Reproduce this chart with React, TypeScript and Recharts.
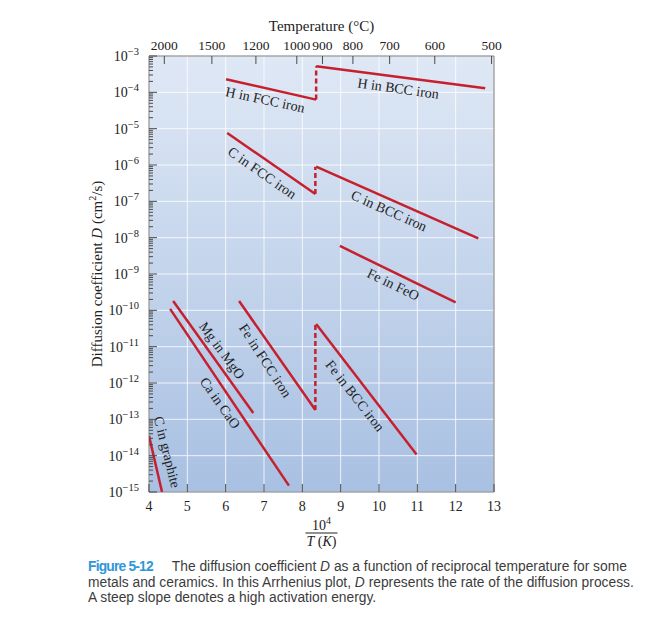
import React from 'react'
import {
  LineChart,
  Line,
  XAxis,
  YAxis,
  CartesianGrid,
  ReferenceDot,
  ReferenceArea,
  Label,
} from 'recharts'

type Pt = { x: number; d: number }

// x = 10^4 / T(K), d = diffusion coefficient (cm^2/s)
const hInFcc: Pt[] = [{ x: 6.01, d: 2.3e-4 }, { x: 8.36, d: 6.3e-5 }]
const hJump: Pt[] = [{ x: 8.36, d: 6.3e-5 }, { x: 8.36, d: 5.2e-4 }]
const hInBcc: Pt[] = [{ x: 8.36, d: 5.2e-4 }, { x: 12.77, d: 1.3e-4 }]

const cInFcc: Pt[] = [{ x: 6.04, d: 7.6e-6 }, { x: 8.34, d: 1.6e-7 }]
const cJump: Pt[] = [{ x: 8.34, d: 1.6e-7 }, { x: 8.34, d: 9.0e-7 }]
const cInBcc: Pt[] = [{ x: 8.36, d: 9.0e-7 }, { x: 12.59, d: 9.5e-9 }]

const feInFeO: Pt[] = [{ x: 8.98, d: 5.9e-9 }, { x: 12.0, d: 1.66e-10 }]

const feInFcc: Pt[] = [{ x: 6.35, d: 1.8e-10 }, { x: 8.34, d: 1.8e-13 }]
const feJump: Pt[] = [{ x: 8.34, d: 1.8e-13 }, { x: 8.34, d: 4.2e-11 }]
const feInBcc: Pt[] = [{ x: 8.36, d: 4.2e-11 }, { x: 10.98, d: 1.07e-14 }]

const mgInMgO: Pt[] = [{ x: 4.63, d: 1.8e-10 }, { x: 6.72, d: 1.5e-13 }]
const caInCaO: Pt[] = [{ x: 4.55, d: 1.1e-10 }, { x: 7.65, d: 1.5e-15 }]
const cInGraphite: Pt[] = [{ x: 4.0, d: 3.5e-14 }, { x: 4.34, d: 1.0e-15 }]

const solidSeries = [hInFcc, hInBcc, cInFcc, cInBcc, feInFeO, feInFcc, feInBcc, mgInMgO, caInCaO, cInGraphite]
const dashedSeries = [hJump, cJump, feJump]

const curveLabels = [
  { text: 'H in FCC iron', x: 7.03, d: 6.2e-5, angle: 12 },
  { text: 'H in BCC iron', x: 10.5, d: 1.26e-4, angle: 8 },
  { text: 'C in FCC iron', x: 6.95, d: 6.0e-7, angle: 35 },
  { text: 'C in BCC iron', x: 10.26, d: 5.4e-8, angle: 24 },
  { text: 'Fe in FeO', x: 10.37, d: 5.1e-10, angle: 26 },
  { text: 'Mg in MgO', x: 5.9, d: 7.8e-12, angle: 54 },
  { text: 'Ca in CaO', x: 5.85, d: 2.8e-13, angle: 55 },
  { text: 'Fe in FCC iron', x: 7.03, d: 4.1e-12, angle: 57 },
  { text: 'Fe in BCC iron', x: 9.37, d: 4.4e-13, angle: 52 },
  { text: 'C in graphite', x: 4.47, d: 1.26e-14, angle: 76 },
]

const xTicks = [4, 5, 6, 7, 8, 9, 10, 11, 12, 13]
const tempTicks = [2000, 1500, 1200, 1000, 900, 800, 700, 600, 500]
const decades = [1e-3, 1e-4, 1e-5, 1e-6, 1e-7, 1e-8, 1e-9, 1e-10, 1e-11, 1e-12, 1e-13, 1e-14, 1e-15]

const tempPositions = tempTicks.map((t) => 1e4 / (t + 273))
const minorTicks: number[] = []
decades.slice(1).forEach((dec) => {
  for (let k = 2; k <= 9; k++) minorTicks.push(k * dec)
})
const yTicks = [...decades, ...minorTicks]

const SERIF = '"Liberation Serif", "Times New Roman", serif'
const SANS = '"Liberation Sans", Arial, sans-serif'
const RED = '#c6202e'
const TICK_COLOR = '#4a4a4a'
const X_DOMAIN: [number, number] = [4, 13]
const Y_DOMAIN: [number, number] = [1e-15, 1e-3]

const Y_MARGIN = 10
const B_MARGIN = 8
const T_MARGIN = 5

const YTick = (props: any) => {
  const { x, y, payload } = props
  const lg = Math.log10(payload.value)
  const e = Math.round(lg)
  const major = Math.abs(lg - e) < 1e-6
  const edge = x + Y_MARGIN
  return (
    <g>
      <line x1={edge} x2={edge + (major ? 8 : 4)} y1={y} y2={y} stroke={TICK_COLOR} strokeWidth={1} />
      {major && (
        <text x={x} y={y} dy={5} textAnchor="end" fontFamily={SERIF} fontSize={14} fill="#222">
          <tspan>10</tspan>
          <tspan dy={-6} fontSize={10.5}>{`\u2212${-e}`}</tspan>
        </text>
      )}
    </g>
  )
}

const BottomTick = (props: any) => {
  const { x, y, payload } = props
  const edge = y - B_MARGIN
  return (
    <g>
      <line x1={x} x2={x} y1={edge} y2={edge - 8} stroke={TICK_COLOR} strokeWidth={1} />
      <text x={x} y={y} dy={11} textAnchor="middle" fontFamily={SERIF} fontSize={14} fill="#222">
        {payload.value}
      </text>
    </g>
  )
}

const TopTick = (props: any) => {
  const { x, y, payload } = props
  const edge = y + T_MARGIN
  return (
    <g>
      <line x1={x} x2={x} y1={edge} y2={edge + 8} stroke={TICK_COLOR} strokeWidth={1} />
      <text x={x} y={y} dy={-1} textAnchor="middle" fontFamily={SERIF} fontSize={13.5} fill="#222">
        {Math.round(1e4 / payload.value - 273)}
      </text>
    </g>
  )
}

const TopTitle = (props: any) => {
  const vb = props.viewBox || { x: 149, y: 0, width: 345, height: 56 }
  return (
    <text x={vb.x + vb.width / 2} y={31} textAnchor="middle" fontFamily={SERIF} fontSize={15} fill="#222">
      Temperature (°C)
    </text>
  )
}

const BottomTitle = (props: any) => {
  const vb = props.viewBox || { x: 149, y: 492, width: 345, height: 68 }
  const cx = vb.x + vb.width / 2
  const y0 = vb.y
  return (
    <g fontFamily={SERIF} fill="#222">
      <text x={cx} y={y0 + 38} textAnchor="middle" fontSize={14}>
        <tspan>10</tspan>
        <tspan dy={-6} fontSize={10}>4</tspan>
      </text>
      <line x1={cx - 16} x2={cx + 16} y1={y0 + 41} y2={y0 + 41} stroke="#222" strokeWidth={1} />
      <text x={cx} y={y0 + 54} textAnchor="middle" fontSize={14}>
        <tspan fontStyle="italic">T</tspan>
        <tspan> (</tspan>
        <tspan fontStyle="italic">K</tspan>
        <tspan>)</tspan>
      </text>
    </g>
  )
}

const LeftTitle = (props: any) => {
  const vb = props.viewBox || { x: 0, y: 56, width: 149, height: 436 }
  const cx = 97
  const cy = vb.y + vb.height / 2
  return (
    <text
      x={cx}
      y={cy}
      transform={`rotate(-90 ${cx} ${cy})`}
      textAnchor="middle"
      dominantBaseline="central"
      fontFamily={SERIF}
      fontSize={15}
      fill="#222"
    >
      <tspan>Diffusion coefficient </tspan>
      <tspan fontStyle="italic">D</tspan>
      <tspan> (cm</tspan>
      <tspan dy={-5} fontSize={10}>2</tspan>
      <tspan dy={5}>/s)</tspan>
    </text>
  )
}

const makeLabelShape = (text: string, angle: number) => (p: any) => (
  <text
    x={p.cx}
    y={p.cy}
    transform={`rotate(${angle} ${p.cx} ${p.cy})`}
    textAnchor="middle"
    dominantBaseline="central"
    fontFamily={SERIF}
    fontSize={14}
    fill="#222"
  >
    {text}
  </text>
)

export default function App() {
  return (
    <div style={{ position: 'absolute', left: 0, top: 0, width: 663, height: 630, background: '#fff' }}>
      <svg width={0} height={0} style={{ position: 'absolute' }}>
        <defs>
          <linearGradient id="bgGrad" x1="0" y1="0" x2="0" y2="1">
            <stop offset="0%" stopColor="#dfe8f5" />
            <stop offset="100%" stopColor="#a8c0e2" />
          </linearGradient>
        </defs>
      </svg>
      <LineChart width={663} height={560} margin={{ top: 0, right: 169, bottom: 0, left: 0 }}>
        <CartesianGrid
          xAxisId="b"
          yAxisId="y"
          horizontalValues={decades}
          verticalValues={xTicks}
          stroke="#ffffff"
          strokeOpacity={0.8}
          fill="url(#bgGrad)"
          fillOpacity={1}
        />
        <XAxis
          xAxisId="b"
          dataKey="x"
          type="number"
          domain={X_DOMAIN}
          ticks={xTicks}
          interval={0}
          allowDataOverflow
          height={68}
          axisLine={false}
          tickLine={false}
          tickSize={0}
          tickMargin={B_MARGIN}
          tick={<BottomTick />}
        >
          <Label content={BottomTitle} />
        </XAxis>
        <XAxis
          xAxisId="t"
          dataKey="x"
          orientation="top"
          type="number"
          domain={X_DOMAIN}
          ticks={tempPositions}
          interval={0}
          allowDataOverflow
          height={56}
          axisLine={false}
          tickLine={false}
          tickSize={0}
          tickMargin={T_MARGIN}
          tick={<TopTick />}
        >
          <Label content={TopTitle} />
        </XAxis>
        <YAxis
          yAxisId="y"
          dataKey="d"
          type="number"
          scale="log"
          domain={Y_DOMAIN}
          ticks={yTicks}
          interval={0}
          allowDataOverflow
          width={149}
          axisLine={false}
          tickLine={false}
          tickSize={0}
          tickMargin={Y_MARGIN}
          tick={<YTick />}
        >
          <Label content={LeftTitle} />
        </YAxis>
        <ReferenceArea
          xAxisId="b"
          yAxisId="y"
          x1={4}
          x2={13}
          y1={1e-15}
          y2={1e-3}
          fill="none"
          fillOpacity={0}
          stroke="#7a7a7a"
          strokeWidth={1}
          ifOverflow="visible"
        />
        {solidSeries.map((data, i) => (
          <Line
            key={`s${i}`}
            xAxisId="b"
            yAxisId="y"
            data={data}
            dataKey="d"
            type="linear"
            stroke={RED}
            strokeWidth={2.5}
            dot={false}
            activeDot={false}
            isAnimationActive={false}
          />
        ))}
        {dashedSeries.map((data, i) => (
          <Line
            key={`d${i}`}
            xAxisId="b"
            yAxisId="y"
            data={data}
            dataKey="d"
            type="linear"
            stroke={RED}
            strokeWidth={2.5}
            strokeDasharray="5 3"
            dot={false}
            activeDot={false}
            isAnimationActive={false}
          />
        ))}
        {curveLabels.map((l) => (
          <ReferenceDot
            key={l.text}
            xAxisId="b"
            yAxisId="y"
            x={l.x}
            y={l.d}
            r={0}
            ifOverflow="visible"
            shape={makeLabelShape(l.text, l.angle)}
          />
        ))}
      </LineChart>
      <div
        style={{
          position: 'absolute',
          left: 88,
          top: 559,
          width: 570,
          fontFamily: SANS,
          fontSize: 13.8,
          lineHeight: '15.5px',
          color: '#3c3c3c',
          whiteSpace: 'nowrap',
        }}
      >
        <span style={{ color: '#2f97d8', fontWeight: 'bold', letterSpacing: -0.8, marginRight: 19 }}>
          Figure 5-12
        </span>
        The diffusion coefficient <i>D</i> as a function of reciprocal temperature for some
        <br />
        metals and ceramics. In this Arrhenius plot, <i>D</i> represents the rate of the diffusion process.
        <br />
        A steep slope denotes a high activation energy.
      </div>
    </div>
  )
}
